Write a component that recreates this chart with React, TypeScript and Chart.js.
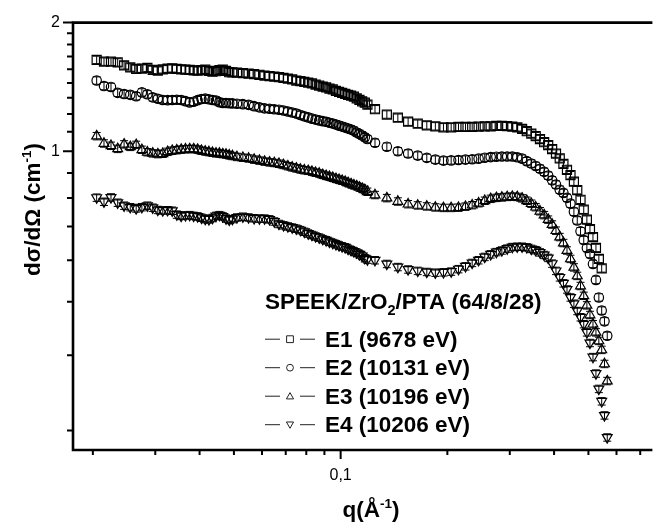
import React, { useEffect, useRef } from 'react';
import { Chart, registerables } from 'chart.js';

Chart.register(...registerables);

const FONT = '"Liberation Sans", Arial, Helvetica, sans-serif';

// scattering vector q (Å^-1)
const q = [
  0.0205, 0.0215, 0.0225, 0.0235, 0.0245, 0.0255, 0.0265, 0.0275, 0.0285, 0.0295,
  0.0305, 0.0315, 0.0325, 0.0335, 0.0345, 0.0355, 0.0365, 0.0375, 0.0385, 0.0395,
  0.0405, 0.0415, 0.0425, 0.0435, 0.0445, 0.0455, 0.0465, 0.0475, 0.0485, 0.0495,
  0.051, 0.053, 0.055, 0.057, 0.059, 0.061, 0.063, 0.065, 0.067, 0.069,
  0.071, 0.073, 0.075, 0.077, 0.079, 0.081, 0.083, 0.085, 0.087, 0.089,
  0.091, 0.093, 0.095, 0.097, 0.099, 0.101, 0.103, 0.105, 0.107, 0.109,
  0.111, 0.113, 0.115, 0.117, 0.119,
  0.125, 0.135, 0.145, 0.155, 0.165, 0.175, 0.185, 0.195, 0.205, 0.215,
  0.225, 0.235, 0.245, 0.255, 0.265, 0.275, 0.285, 0.295, 0.305, 0.315,
  0.325, 0.335, 0.345, 0.355, 0.365, 0.375, 0.385, 0.395, 0.405, 0.415,
  0.425, 0.435, 0.445, 0.455, 0.465, 0.475, 0.485, 0.495, 0.505, 0.515,
  0.525, 0.535, 0.545, 0.555, 0.565,
];

const e1 = [
  1.636, 1.621, 1.620, 1.614, 1.589, 1.571, 1.558, 1.561, 1.567, 1.550,
  1.544, 1.555, 1.561, 1.563, 1.558, 1.555, 1.552, 1.550, 1.546, 1.544,
  1.548, 1.552, 1.542, 1.536, 1.539, 1.548, 1.552, 1.542, 1.531, 1.530,
  1.527, 1.523, 1.520, 1.515, 1.510, 1.503, 1.499, 1.495, 1.490, 1.484,
  1.478, 1.472, 1.464, 1.459, 1.453, 1.447, 1.441, 1.432, 1.425, 1.417,
  1.410, 1.402, 1.395, 1.384, 1.377, 1.369, 1.362, 1.355, 1.349, 1.342,
  1.330, 1.319, 1.309, 1.299, 1.285,
  1.254, 1.219, 1.198, 1.173, 1.160, 1.150, 1.144, 1.138, 1.138, 1.140,
  1.140, 1.140, 1.142, 1.144, 1.144, 1.146, 1.147, 1.145, 1.142, 1.138,
  1.128, 1.114, 1.100, 1.085, 1.068, 1.050, 1.034, 1.012, 0.988, 0.962,
  0.934, 0.905, 0.879, 0.849, 0.811, 0.770, 0.730, 0.692, 0.657, 0.630,
  0.594, 0.560, 0.532, null, null,
];

const e2 = [
  1.464, 1.421, 1.414, 1.370, 1.361, 1.355, 1.345, 1.373, 1.359, 1.337,
  1.327, 1.318, 1.317, 1.318, 1.320, 1.318, 1.310, 1.301, 1.306, 1.317,
  1.325, 1.328, 1.323, 1.318, 1.314, 1.303, 1.297, 1.297, 1.295, 1.294,
  1.292, 1.289, 1.284, 1.275, 1.267, 1.260, 1.257, 1.254, 1.251, 1.246,
  1.239, 1.232, 1.225, 1.216, 1.207, 1.200, 1.192, 1.186, 1.181, 1.176,
  1.172, 1.166, 1.161, 1.155, 1.148, 1.142, 1.136, 1.130, 1.124, 1.117,
  1.106, 1.098, 1.089, 1.079, 1.068,
  1.047, 1.025, 1.000, 0.988, 0.977, 0.965, 0.956, 0.951, 0.952, 0.954,
  0.956, 0.958, 0.961, 0.966, 0.969, 0.971, 0.972, 0.972, 0.972, 0.968,
  0.961, 0.948, 0.936, 0.924, 0.910, 0.895, 0.877, 0.855, 0.836, 0.813,
  0.799, 0.778, 0.754, 0.722, 0.689, 0.650, 0.620, 0.594, 0.575, 0.545,
  0.500, 0.455, 0.424, 0.400, 0.370,
];

const e3 = [
  1.085, 1.043, 1.030, 1.013, 1.038, 1.024, 1.035, 1.008, 0.995, 0.989,
  0.985, 0.987, 0.997, 1.003, 1.006, 1.009, 1.011, 1.012, 1.012, 1.009,
  1.003, 0.999, 0.996, 0.992, 0.989, 0.988, 0.985, 0.983, 0.979, 0.975,
  0.970, 0.966, 0.962, 0.956, 0.951, 0.946, 0.942, 0.939, 0.935, 0.929,
  0.923, 0.917, 0.912, 0.907, 0.903, 0.900, 0.896, 0.891, 0.887, 0.881,
  0.876, 0.872, 0.867, 0.862, 0.858, 0.853, 0.849, 0.843, 0.838, 0.833,
  0.829, 0.823, 0.818, 0.812, 0.804,
  0.790, 0.777, 0.763, 0.752, 0.747, 0.743, 0.739, 0.737, 0.737, 0.738,
  0.742, 0.748, 0.756, 0.766, 0.774, 0.778, 0.780, 0.782, 0.783, 0.782,
  0.776, 0.766, 0.754, 0.740, 0.724, 0.709, 0.692, 0.674, 0.652, 0.630,
  0.610, 0.586, 0.560, 0.535, 0.511, 0.484, 0.459, 0.436, 0.414, 0.394,
  0.377, 0.360, 0.343, 0.318, 0.290,
];

const e4 = [
  0.779, 0.762, 0.780, 0.758, 0.746, 0.740, 0.735, 0.740, 0.746, 0.738,
  0.729, 0.727, 0.728, 0.726, 0.711, 0.706, 0.708, 0.709, 0.706, 0.704,
  0.699, 0.694, 0.693, 0.698, 0.706, 0.709, 0.704, 0.696, 0.691, 0.694,
  0.700, 0.703, 0.700, 0.697, 0.696, 0.696, 0.693, 0.685, 0.676, 0.671,
  0.667, 0.663, 0.659, 0.654, 0.648, 0.642, 0.637, 0.632, 0.628, 0.623,
  0.619, 0.614, 0.610, 0.606, 0.602, 0.599, 0.596, 0.591, 0.587, 0.583,
  0.579, 0.574, 0.569, 0.562, 0.558,
  0.556, 0.545, 0.536, 0.529, 0.525, 0.522, 0.520, 0.521, 0.523, 0.530,
  0.538, 0.548, 0.556, 0.566, 0.574, 0.581, 0.586, 0.592, 0.597, 0.598,
  0.598, 0.596, 0.591, 0.587, 0.580, 0.572, 0.563, 0.546, 0.525, 0.507,
  0.491, 0.475, 0.455, 0.440, 0.423, 0.409, 0.394, 0.377, 0.356, 0.330,
  0.302, 0.278, 0.260, 0.241, 0.214,
];

const seriesValues = [e1, e2, e3, e4];
const seriesLabels = ['E1 (9678 eV)', 'E2 (10131 eV)', 'E3 (10196 eV)', 'E4 (10206 eV)'];
const seriesMarkers = ['square', 'circle', 'triangle', 'invTriangle'];
const legendTitle = ['SPEEK/ZrO', '2', '/PTA (64/8/28)'];
const yTitle = ['dσ/dΩ (cm', '-1', ')'];
const xTitle = ['q(Å', '-1', ')'];

// relative error of each point
const relError = 0.02;

// axis ranges and ticks
const xRange = [0.01758, 0.7478];
const yRange = [0.2, 2];
const xMajorTicks = [0.1];
const xMinorTicks = [0.02, 0.03, 0.04, 0.05, 0.06, 0.07, 0.08, 0.09, 0.2, 0.3, 0.4, 0.5, 0.6, 0.7];
const yMajorTicks = [1, 2];
const yMinorTicks = [0.2222, 0.3333, 0.4444, 0.5556, 0.6667, 0.7778, 0.8889,
  1.1111, 1.2222, 1.3333, 1.4444, 1.5556, 1.6667, 1.7778, 1.8889];
const xTickLabels: Record<string, string> = { '0.1': '0,1' };
const yTickLabels: Record<string, string> = { '1': '1', '2': '2' };

function drawRich(ctx: CanvasRenderingContext2D, parts: { text: string; size: number; dy: number }[], x: number, y: number, align: 'left' | 'center') {
  let total = 0;
  const widths = parts.map((p) => {
    ctx.font = `bold ${p.size}px ${FONT}`;
    const w = ctx.measureText(p.text).width;
    total += w;
    return w;
  });
  let cx = align === 'center' ? x - total / 2 : x;
  ctx.textAlign = 'left';
  ctx.textBaseline = 'alphabetic';
  parts.forEach((p, i) => {
    ctx.font = `bold ${p.size}px ${FONT}`;
    ctx.fillText(p.text, cx, y + p.dy);
    cx += widths[i];
  });
}

function drawMarker(ctx: CanvasRenderingContext2D, kind: string, x: number, y: number, s: number) {
  ctx.beginPath();
  if (kind === 'square') {
    ctx.rect(x - s, y - s, 2 * s, 2 * s);
  } else if (kind === 'circle') {
    ctx.arc(x, y, s, 0, Math.PI * 2);
  } else if (kind === 'triangle') {
    ctx.moveTo(x, y - s * 1.05);
    ctx.lineTo(x + s * 1.05, y + s * 0.8);
    ctx.lineTo(x - s * 1.05, y + s * 0.8);
    ctx.closePath();
  } else {
    ctx.moveTo(x, y + s * 1.05);
    ctx.lineTo(x + s * 1.05, y - s * 0.8);
    ctx.lineTo(x - s * 1.05, y - s * 0.8);
    ctx.closePath();
  }
  ctx.stroke();
}

const errorBarPlugin = {
  id: 'errorBars',
  afterDatasetsDraw(chart: any) {
    const { ctx, chartArea, scales } = chart;
    const ys = scales.y;
    ctx.save();
    ctx.beginPath();
    ctx.rect(chartArea.left, chartArea.top - 6, chartArea.right - chartArea.left, chartArea.bottom - chartArea.top + 6);
    ctx.clip();
    ctx.strokeStyle = '#000';
    ctx.lineWidth = 1;
    chart.data.datasets.forEach((ds: any, di: number) => {
      const meta = chart.getDatasetMeta(di);
      meta.data.forEach((pt: any, i: number) => {
        const v = ds.data[i].y;
        const hi = ys.getPixelForValue(v * (1 + relError));
        const lo = ys.getPixelForValue(v * (1 - relError));
        ctx.beginPath();
        ctx.moveTo(pt.x, hi);
        ctx.lineTo(pt.x, lo);
        ctx.moveTo(pt.x - 4, hi);
        ctx.lineTo(pt.x + 4, hi);
        ctx.moveTo(pt.x - 4, lo);
        ctx.lineTo(pt.x + 4, lo);
        ctx.stroke();
      });
    });
    ctx.restore();
  },
};

const decorPlugin = {
  id: 'decor',
  afterDraw(chart: any) {
    const { ctx, chartArea, scales } = chart;
    const { left, right, top, bottom } = chartArea;
    const xs = scales.x;
    const ys = scales.y;
    ctx.save();
    ctx.strokeStyle = '#000';
    ctx.fillStyle = '#000';
    // axis frame
    ctx.lineWidth = 2.6;
    ctx.beginPath();
    ctx.moveTo(left, top);
    ctx.lineTo(right + 2, top);
    ctx.moveTo(left, top - 1.3);
    ctx.lineTo(left, bottom + 1.3);
    ctx.moveTo(left - 1.3, bottom);
    ctx.lineTo(right + 2, bottom);
    ctx.stroke();
    // ticks
    ctx.lineWidth = 2;
    ctx.beginPath();
    yMajorTicks.forEach((v) => {
      const p = ys.getPixelForValue(v);
      ctx.moveTo(left - 10, p);
      ctx.lineTo(left, p);
    });
    yMinorTicks.forEach((v) => {
      const p = ys.getPixelForValue(v);
      ctx.moveTo(left - 6, p);
      ctx.lineTo(left, p);
    });
    xMajorTicks.forEach((v) => {
      const p = xs.getPixelForValue(v);
      ctx.moveTo(p, bottom);
      ctx.lineTo(p, bottom + 9);
    });
    xMinorTicks.forEach((v) => {
      const p = xs.getPixelForValue(v);
      ctx.moveTo(p, bottom);
      ctx.lineTo(p, bottom + 5);
    });
    ctx.stroke();

    // axis titles
    ctx.save();
    ctx.translate(40, 209.5);
    ctx.rotate(-Math.PI / 2);
    drawRich(ctx, [
      { text: yTitle[0], size: 22.5, dy: 0 },
      { text: yTitle[1], size: 13.5, dy: -9 },
      { text: yTitle[2], size: 22.5, dy: 0 },
    ], 0, 0, 'center');
    ctx.restore();
    drawRich(ctx, [
      { text: xTitle[0], size: 22.5, dy: 0 },
      { text: xTitle[1], size: 13.5, dy: -9 },
      { text: xTitle[2], size: 22.5, dy: 0 },
    ], 371, 516.5, 'center');

    // legend
    drawRich(ctx, [
      { text: legendTitle[0], size: 22.5, dy: 0 },
      { text: legendTitle[1], size: 14.5, dy: 6 },
      { text: legendTitle[2], size: 22.5, dy: 0 },
    ], 265, 308.5, 'left');
    seriesLabels.forEach((label, i) => {
      const base = 346.7 + i * 28.5;
      const sy = base - 7.5;
      ctx.strokeStyle = '#222';
      ctx.lineWidth = 1;
      ctx.beginPath();
      ctx.moveTo(265, sy);
      ctx.lineTo(280, sy);
      ctx.moveTo(300, sy);
      ctx.lineTo(315, sy);
      ctx.stroke();
      drawMarker(ctx, seriesMarkers[i], 290, sy, 3.4);
      ctx.fillStyle = '#000';
      drawRich(ctx, [{ text: label, size: 22.5, dy: 0 }], 325, base, 'left');
    });
    ctx.restore();
  },
};

export default function App() {
  const ref = useRef<HTMLCanvasElement | null>(null);
  useEffect(() => {
    if (!ref.current) return;
    const styles: any[] = [
      { pointStyle: 'rect', pointRadius: 6.4, pointRotation: 0 },
      { pointStyle: 'circle', pointRadius: 4.7, pointRotation: 0 },
      { pointStyle: 'triangle', pointRadius: 5.7, pointRotation: 0 },
      { pointStyle: 'triangle', pointRadius: 5.7, pointRotation: 180 },
    ];
    const datasets = seriesValues.map((vals, si) => ({
      label: seriesLabels[si],
      data: q
        .map((x, i) => ({ x, y: vals[i] as number | null }))
        .filter((p) => p.y !== null) as { x: number; y: number }[],
      showLine: false,
      borderColor: '#000',
      backgroundColor: 'rgba(0,0,0,0)',
      pointBorderColor: '#000',
      pointBackgroundColor: 'rgba(0,0,0,0)',
      pointBorderWidth: 1.2,
      pointHoverRadius: styles[si].pointRadius,
      ...styles[si],
    }));
    const tickFont = { family: FONT, size: 16 };
    const chart = new Chart(ref.current, {
      type: 'scatter',
      data: { datasets },
      options: {
        animation: false,
        responsive: false,
        maintainAspectRatio: false,
        events: [],
        layout: { padding: { top: 14, right: 0, left: 0, bottom: 0 } },
        plugins: { legend: { display: false }, tooltip: { enabled: false } },
        scales: {
          x: {
            type: 'logarithmic',
            position: 'bottom',
            min: xRange[0],
            max: xRange[1],
            grid: { display: false, drawTicks: false },
            border: { display: false },
            afterBuildTicks: (scale: any) => {
              scale.ticks = [...xMinorTicks, ...xMajorTicks].sort((a, b) => a - b).map((v) => ({ value: v }));
            },
            afterFit: (scale: any) => {
              scale.height = 79;
            },
            ticks: {
              autoSkip: false,
              maxRotation: 0,
              padding: 16,
              color: '#000',
              font: tickFont,
              callback: (v: any) => xTickLabels[String(v)] ?? '',
            },
          },
          y: {
            type: 'logarithmic',
            position: 'left',
            min: yRange[0],
            max: yRange[1],
            grid: { display: false, drawTicks: false },
            border: { display: false },
            afterBuildTicks: (scale: any) => {
              scale.ticks = [...yMinorTicks, ...yMajorTicks].sort((a, b) => a - b).map((v) => ({ value: v }));
            },
            afterFit: (scale: any) => {
              scale.width = 73;
            },
            ticks: {
              autoSkip: false,
              padding: 13,
              color: '#000',
              font: tickFont,
              callback: (v: any) => yTickLabels[String(v)] ?? '',
            },
          },
        },
      } as any,
      plugins: [errorBarPlugin, decorPlugin],
    });
    return () => chart.destroy();
  }, []);
  return (
    <div style={{ position: 'absolute', left: 0, top: 0, width: 658, height: 529, background: '#fff' }}>
      <canvas ref={ref} width={658} height={529} style={{ display: 'block', width: 658, height: 529 }} />
    </div>
  );
}
